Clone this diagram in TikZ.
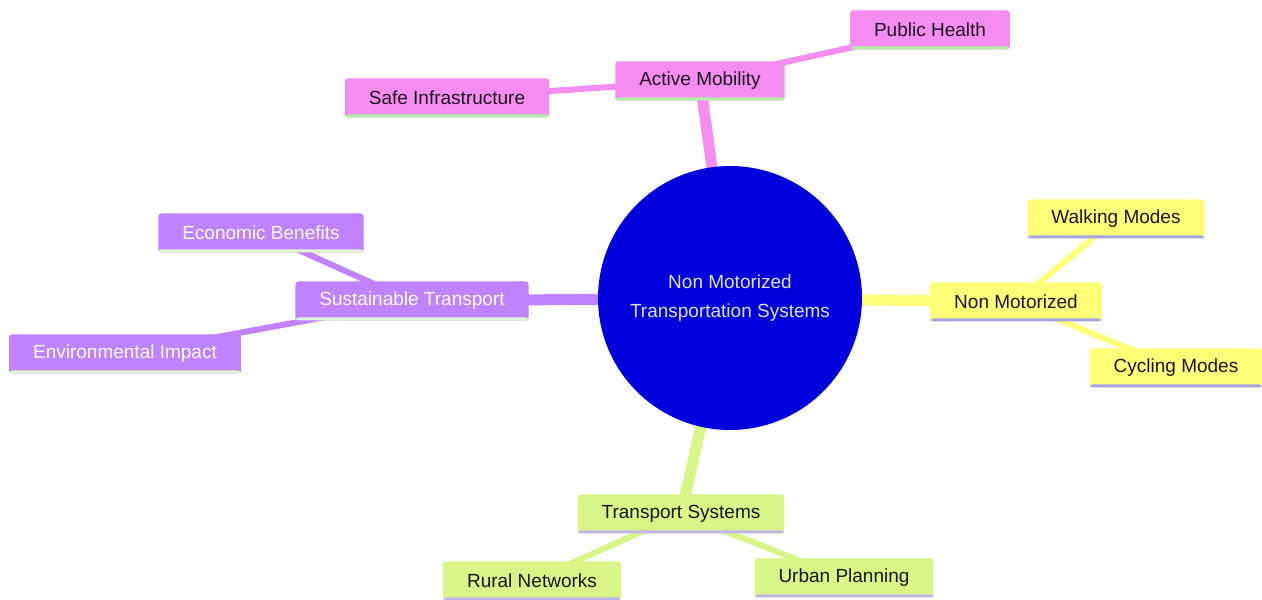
\documentclass[tikz,border=0pt]{standalone}
\usepackage{fontspec}
\setmainfont{Liberation Sans}
\usetikzlibrary{backgrounds}
\definecolor{pinkf}{RGB}{245,140,240}
\definecolor{purplef}{RGB}{192,130,255}
\definecolor{yellowf}{RGB}{255,255,120}
\definecolor{greenf}{RGB}{216,245,135}
\definecolor{rootf}{RGB}{0,0,220}
\definecolor{palegreen}{RGB}{175,240,165}
\definecolor{paleergreen}{RGB}{225,245,210}
\definecolor{lav}{RGB}{165,165,230}
\definecolor{lav2}{RGB}{195,180,235}
\definecolor{darktext}{RGB}{30,20,30}
\definecolor{roottext}{RGB}{225,225,255}
\tikzset{
  mmbox/.style 2 args={fill=#1, rounded corners=3pt, minimum height=39pt,
    inner xsep=24pt, inner ysep=0pt, font=\fontsize{19}{23}\selectfont,
    path picture={\fill[#2] ([yshift=-2pt]path picture bounding box.south west)
      rectangle ([yshift=3pt]path picture bounding box.south east);}},
  pinkbox/.style={mmbox={pinkf}{palegreen}, text=darktext},
  purplebox/.style={mmbox={purplef}{paleergreen}, text=white},
  yellowbox/.style={mmbox={yellowf}{lav}, text=darktext},
  greenbox/.style={mmbox={greenf}{lav2}, text=darktext},
  rootnode/.style={circle, fill=rootf, minimum size=264pt, inner sep=0pt,
    text=roottext, align=center, font=\fontsize{19}{29}\selectfont},
  mainedge/.style={line width=11pt},
  subedge/.style={line width=6pt},
}
\begin{document}
\begin{tikzpicture}[x=1pt,y=1pt]
\useasboundingbox (0,0) rectangle (1262,600);
\node[rootnode] (root) at (730,302) {Non Motorized\\Transportation Systems};
\node[pinkbox] (am) at (700,519) {Active Mobility};
\node[pinkbox] (ph) at (930,570) {Public Health};
\node[pinkbox] (si) at (447,502) {Safe Infrastructure};
\node[yellowbox] (nm) at (1016,298) {Non Motorized};
\node[yellowbox] (wm) at (1116,381) {Walking Modes};
\node[yellowbox] (cm) at (1176,232) {Cycling Modes};
\node[purplebox] (st) at (412,299) {Sustainable Transport};
\node[purplebox] (eb) at (261,367) {Economic Benefits};
\node[purplebox] (ei) at (125,246) {Environmental Impact};
\node[greenbox] (ts) at (681,86) {Transport Systems};
\node[greenbox] (rn) at (532,19) {Rural Networks};
\node[greenbox] (up) at (844,22) {Urban Planning};
\begin{scope}[on background layer]
\fill[white] (0,0) rectangle (1262,600);
\draw[mainedge, pinkf] (root.center) -- (am.center);
\draw[subedge, pinkf] (am.center) -- (ph.center);
\draw[subedge, pinkf] (am.center) -- (si.center);
\draw[mainedge, yellowf] (root.center) -- (nm.center);
\draw[subedge, yellowf] (nm.center) -- (wm.center);
\draw[subedge, yellowf] (nm.center) -- (cm.center);
\draw[mainedge, purplef] (root.center) -- (st.center);
\draw[subedge, purplef] (st.center) -- (eb.center);
\draw[subedge, purplef] (st.center) -- (ei.center);
\draw[mainedge, greenf] (root.center) -- (ts.center);
\draw[subedge, greenf] (ts.center) -- (rn.center);
\draw[subedge, greenf] (ts.center) -- (up.center);
\end{scope}
\end{tikzpicture}
\end{document}
